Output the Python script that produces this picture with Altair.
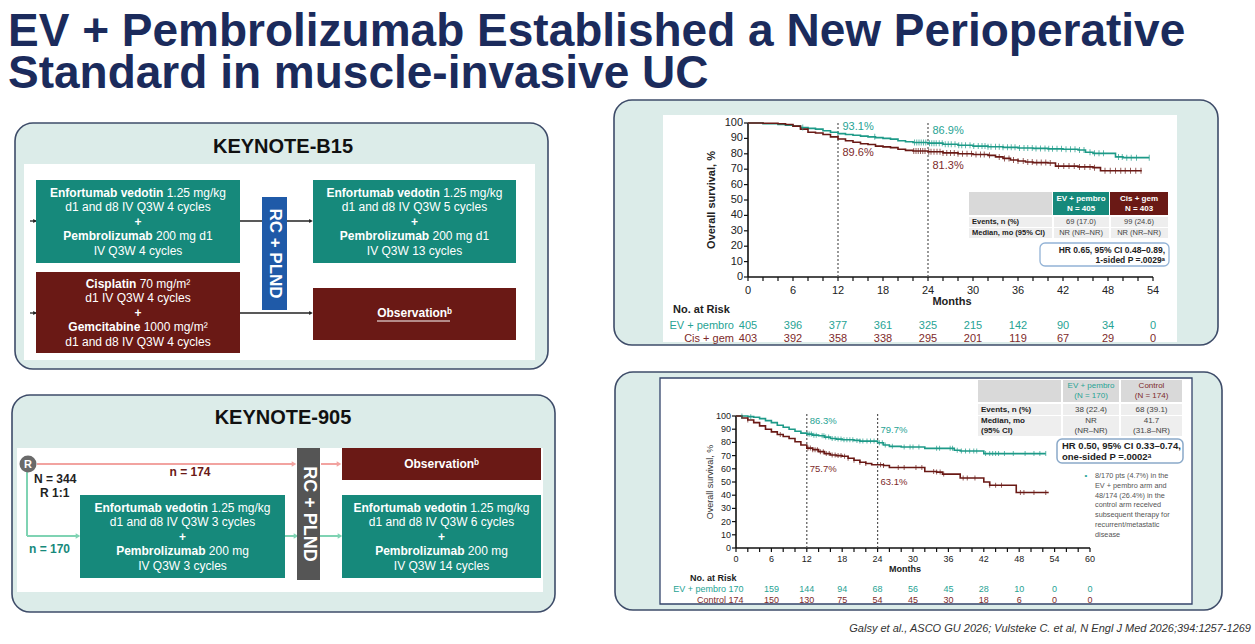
import altair as alt
import pandas as pd

W, H = 1255, 644
FONT = "Liberation Sans"

NAVY = "#1b2b5c"
TEAL = "#16897b"
TEAL_LINE = "#1d9a88"
TEAL_TXT = "#27a394"
MAROON = "#6a1915"
MAROON_TXT = "#7d2a2a"
BLUE_BAR = "#1f5aa8"
GRAY_BAR = "#555555"
PANEL = "#dcece9"
PANEL_EDGE = "#3e4c69"
PINK = "#f2a3a0"
MINT = "#7fd3b3"

# ---------------- values ----------------
TITLE_LINES = ["EV + Pembrolizumab Established a New Perioperative",
               "Standard in muscle-invasive UC"]
FOOTER = "Galsy et al., ASCO GU 2026; Vulsteke C. et al, N Engl J Med 2026;394:1257-1269"

# KEYNOTE-B15 overall survival (months, %)
B15_EV_T = [0, 2, 4, 5, 6, 7, 8, 9, 10, 11, 12, 13, 14, 15, 16, 17, 18, 19, 20, 21, 22, 24, 26, 28, 30,
            32, 34, 36, 38, 40, 42, 44, 45, 46, 48, 49, 50, 53.5]
B15_EV_S = [100, 99.5, 99, 98.5, 98, 97, 96.5, 96, 95, 94, 93.1, 92.5, 92, 91.5, 91, 90.5, 90, 89.5, 88.5,
            87.8, 87.3, 86.9, 86.2, 85.6, 85, 84.6, 84.2, 83.8, 83.5, 83.2, 83, 82.5, 81, 80.3, 80.3, 78,
            77.5, 77.5]
B15_CG_T = [0, 2, 4, 5, 6, 7, 8, 9, 10, 11, 12, 13, 14, 15, 16, 17, 18, 19, 20, 21, 22, 24, 26, 28, 30,
            32, 33, 34, 35, 36, 37, 38, 40, 41, 42, 44, 46, 47, 52.5]
B15_CG_S = [100, 99.8, 99.5, 99, 98, 96, 94, 93.5, 92.5, 91, 89.6, 88.5, 87.5, 86.5, 86, 85, 84.5, 84,
            83, 82.2, 81.8, 81.3, 80.6, 80, 79.5, 79, 78, 77, 76, 75.3, 74.7, 74.3, 74, 72, 72, 71.5, 71,
            69, 69]
B15_EV_CENS = [7.3, 16.9, 22.2, 22.5, 22.8, 23.1, 23.4, 23.7, 24.2, 24.5, 24.8, 25.1, 25.5, 25.9, 26.3,
               26.7, 27.1, 27.6, 28.1, 28.5, 29.0, 29.6, 30.1, 30.7, 31.2, 31.6, 32.0, 32.4, 33.0, 33.5,
               34.0, 34.6, 35.1, 35.6, 36.2, 36.8, 37.3, 37.9, 38.4, 39.0, 39.6, 40.1, 40.6, 41.2, 41.8,
               42.4, 43.0, 43.6, 44.2, 44.8, 45.6, 46.2, 46.8, 47.4, 49.4, 49.9, 50.5, 51.1, 51.8, 53.5]
B15_CG_CENS = [22.1, 22.4, 22.7, 23.0, 23.3, 23.6, 24.1, 24.4, 24.8, 25.2, 25.6, 26.0, 26.5, 27.0, 27.5,
               28.0, 28.6, 29.2, 29.8, 30.4, 31.0, 31.5, 32.2, 33.5, 34.2, 34.8, 35.4, 36.0, 36.7, 37.3,
               37.9, 38.5, 39.1, 39.7, 40.3, 41.4, 42.1, 42.8, 43.5, 44.2, 44.9, 45.6, 46.2, 47.6, 48.3,
               49.0, 49.7, 50.3, 51.0, 51.7, 52.4]
B15_RISK_MONTHS = [0, 6, 12, 18, 24, 30, 36, 42, 48, 54]
B15_RISK_EV = [405, 396, 377, 361, 325, 215, 142, 90, 34, 0]
B15_RISK_CG = [403, 392, 358, 338, 295, 201, 119, 67, 29, 0]
B15_LANDMARKS = [12, 24]
B15_EV_PCT = ["93.1%", "86.9%"]
B15_CG_PCT = ["89.6%", "81.3%"]
B15_ARMS = ["EV + pembro", "Cis + gem"]
B15_N = ["N = 405", "N = 403"]
B15_EVENTS = ["69 (17.0)", "99 (24.6)"]
B15_MEDIAN = ["NR (NR\u2013NR)", "NR (NR\u2013NR)"]
B15_HR = ["HR 0.65, 95% CI 0.48\u20130.89,", "1-sided P =.0029\u1d43"]

# KEYNOTE-905 overall survival (months, %)
K905_EV_T = [0, 1, 2, 3, 4, 5, 6, 7, 8, 9, 10, 11, 12, 13, 14, 15, 16, 17, 18, 20, 21, 22, 24, 25, 26,
             28, 30, 32, 34, 36, 37, 38, 41, 42, 44, 48, 52.5]
K905_EV_S = [100, 100, 99.5, 99, 98, 96.5, 95, 93, 91.5, 90, 88.5, 87, 86.3, 85.5, 85, 84, 83, 82.5, 82,
             81.5, 81, 81, 79.7, 78, 77, 76.5, 76.5, 75.5, 75.5, 75.5, 74, 73.5, 73.5, 71.5, 71.5, 71.5,
             71.5]
K905_CT_T = [0, 1, 2, 3, 4, 5, 6, 7, 8, 9, 10, 11, 12, 13, 14, 15, 16, 17, 18, 19, 20, 21, 22, 23, 25,
             26, 31.5, 32, 34, 35, 37.5, 38, 41.5, 42, 43, 47.5, 53]
K905_CT_S = [100, 98.5, 97, 95, 92.5, 90, 88, 86, 84.5, 83, 80.5, 78, 75.7, 74.5, 73, 71.5, 70.5, 70,
             69.5, 68, 66.5, 65, 64, 63.1, 62.5, 61, 61, 58, 57.5, 56, 56, 53, 53, 50, 47.5, 42, 42]
K905_EV_CENS = [1, 2.5, 12.2, 12.5, 12.8, 13.2, 13.6, 14.6, 14.9, 15.2, 15.7, 16.3, 16.8, 17.3, 17.8,
                18.3, 18.8, 19.3, 19.8, 20.5, 21, 21.5, 22.2, 22.8, 23.4, 24.3, 24.8, 25.3, 26.5, 28.5,
                29.5, 30, 31, 34, 34.5, 36.3, 36.7, 37.5, 38.2, 38.9, 39.6, 40.3, 40.8, 42.3, 43, 43.5,
                44, 44.5, 45.5, 47, 49, 50.5, 51.5, 52.5]
K905_CT_CENS = [2, 7.5, 12.2, 12.6, 13, 13.4, 13.8, 14.3, 14.8, 15.3, 15.8, 16.3, 16.8, 17.3, 17.8,
                18.4, 19, 20, 21, 22, 24.5, 25, 27.5, 28.5, 30.5, 31.5, 33.5, 34, 34.6, 35.2, 38.5,
                39.2, 40.5, 43, 44, 45, 48.2, 48.8, 50.5, 52.5]
K905_RISK_MONTHS = [0, 6, 12, 18, 24, 30, 36, 42, 48, 54, 60]
K905_RISK_EV = [170, 159, 144, 94, 68, 56, 45, 28, 10, 0, 0]
K905_RISK_CT = [174, 150, 130, 75, 54, 45, 30, 18, 6, 0, 0]
K905_LANDMARKS = [12, 24]
K905_EV_PCT = ["86.3%", "79.7%"]
K905_CT_PCT = ["75.7%", "63.1%"]
K905_ARMS = ["EV + pembro", "Control"]
K905_N = ["(N = 170)", "(N = 174)"]
K905_EVENTS = ["38 (22.4)", "68 (39.1)"]
K905_MEDIAN = [["NR", "(NR\u2013NR)"], ["41.7", "(31.8\u2013NR)"]]
K905_HR = ["HR 0.50, 95% CI 0.33\u20130.74,", "one-sided P =.0002\u1d43"]
K905_NOTE = ["8/170 pts (4.7%) in the", "EV + pembro arm and", "48/174 (26.4%) in the",
             "control arm received", "subsequent therapy for", "recurrent/metastatic", "disease"]

# schema texts (bold part, regular part)
B15_EV_PRE = [("Enfortumab vedotin", "1.25 mg/kg"), ("", "d1 and d8 IV Q3W 4 cycles"), ("+", ""),
              ("Pembrolizumab", "200 mg d1"), ("", "IV Q3W 4 cycles")]
B15_CG_PRE = [("Cisplatin", "70 mg/m\u00b2"), ("", "d1 IV Q3W 4 cycles"), ("+", ""),
              ("Gemcitabine", "1000 mg/m\u00b2"), ("", "d1 and d8 IV Q3W 4 cycles")]
B15_EV_POST = [("Enfortumab vedotin", "1.25 mg/kg"), ("", "d1 and d8 IV Q3W 5 cycles"), ("+", ""),
               ("Pembrolizumab", "200 mg d1"), ("", "IV Q3W 13 cycles")]
K905_EV_PRE = [("Enfortumab vedotin", "1.25 mg/kg"), ("", "d1 and d8 IV Q3W 3 cycles"), ("+", ""),
               ("Pembrolizumab", "200 mg"), ("", "IV Q3W 3 cycles")]
K905_EV_POST = [("Enfortumab vedotin", "1.25 mg/kg"), ("", "d1 and d8 IV Q3W 6 cycles"), ("+", ""),
                ("Pembrolizumab", "200 mg"), ("", "IV Q3W 14 cycles")]

# ---------------- text metrics (Arial / Liberation Sans) ----------------
_REG = {" ": 278, "+": 584, ".": 278, "/": 278, "-": 333, "\u00b2": 333, "a": 556, "b": 556, "c": 500,
        "d": 556, "e": 556, "f": 278, "g": 556, "h": 556, "i": 222, "k": 500, "l": 222, "m": 833,
        "n": 556, "o": 556, "p": 556, "r": 333, "s": 500, "t": 278, "u": 556, "v": 500, "y": 500,
        "I": 278, "V": 667, "Q": 778, "W": 944}
_BOLD = {" ": 278, "+": 584, "a": 556, "b": 611, "c": 556, "d": 611, "e": 556, "f": 333, "i": 278,
         "l": 278, "m": 889, "n": 611, "o": 611, "p": 611, "r": 389, "t": 333, "u": 611, "v": 556,
         "z": 500, "E": 667, "P": 667, "C": 722, "G": 778}


def tw(s, bold, size):
    tbl = _BOLD if bold else _REG
    return sum(tbl.get(c, 556) for c in s) * size / 1000.0


PX = alt.Scale(domain=[0, W], range=[0, W])
PY = alt.Scale(domain=[0, H], range=[0, H])


def R(rows, **mk):
    df = pd.DataFrame(rows, columns=["x", "y", "x2", "y2"])
    return alt.Chart(df).mark_rect(**mk).encode(
        x=alt.X("x:Q", scale=PX, axis=None), x2="x2:Q",
        y=alt.Y("y:Q", scale=PY, axis=None), y2="y2:Q")


def L(rows, **mk):
    df = pd.DataFrame(rows, columns=["x", "y", "x2", "y2"])
    return alt.Chart(df).mark_rule(**mk).encode(
        x=alt.X("x:Q", scale=PX, axis=None), x2="x2:Q",
        y=alt.Y("y:Q", scale=PY, axis=None), y2="y2:Q")


def P(rows, **mk):
    df = pd.DataFrame(rows, columns=["x", "y"])
    return alt.Chart(df).mark_point(**mk).encode(
        x=alt.X("x:Q", scale=PX, axis=None), y=alt.Y("y:Q", scale=PY, axis=None))


bank = {}


def put(x, y, text, size=12, weight="normal", color="#000000", align="center", angle=0,
        italic=False, baseline="middle"):
    key = (size, weight, color, align, angle, italic, baseline)
    bank.setdefault(key, []).append((x, y, text))


def box_text(cx, cy, lines, size=12.0, gap=14.5, color="white"):
    n = len(lines)
    sp = tw(" ", False, size)
    for i, (b, r) in enumerate(lines):
        y = cy + (i - (n - 1) / 2.0) * gap
        wb = tw(b, True, size)
        wr = tw(r, False, size)
        gapw = sp if (b and r) else 0.0
        left = cx - (wb + gapw + wr) / 2.0
        if b:
            put(left, y, b, size=size, weight="bold", color=color, align="left")
        if r:
            put(left + wb + gapw, y, r, size=size, color=color, align="left")


D = []
# slide panels
D.append(R([(15, 123, 548, 369), (12, 395, 555, 612), (614, 100, 1218, 345), (615, 372, 1222, 610)],
           fill=PANEL, stroke=PANEL_EDGE, strokeWidth=1.6, cornerRadius=18))
D.append(R([(24, 164, 535, 360), (17, 448, 543, 592), (663, 115, 1177, 342)], fill="white"))
D.append(R([(660, 378, 1192, 604)], fill="white", stroke="#34446b", strokeWidth=1.3))

# ---- KEYNOTE-B15 schema ----
D.append(L([(30, 221, 36, 221), (240, 221, 310, 221), (30, 313, 36, 313), (240, 313, 310, 313)],
           color="#222222", strokeWidth=1.3))
D.append(P([(311, 221), (311, 313), (35, 221), (35, 313)], shape="triangle-right", filled=True,
           size=18, color="#222222", opacity=1))
D.append(R([(36, 180, 240, 263), (313, 180, 516, 263)], fill=TEAL))
D.append(R([(36, 272, 240, 353), (313, 288, 516, 340)], fill=MAROON))
D.append(R([(262, 197, 287, 310)], fill=BLUE_BAR))
put(283, 147, "KEYNOTE-B15", size=20, weight="bold", color="#111111")
box_text(138, 221.5, B15_EV_PRE)
box_text(138, 312.5, B15_CG_PRE)
box_text(414.5, 221.5, B15_EV_POST)
put(414.5, 313, "Observation\u1d47", size=12, weight="bold", color="white")
D.append(L([(377, 321, 450, 321)], color="white", strokeWidth=1))
put(274.5, 253.5, "RC + PLND", size=17, weight="bold", color="white", angle=90)

# ---- KEYNOTE-905 schema ----
D.append(L([(37, 464, 292, 464), (321, 464, 337, 464)], color=PINK, strokeWidth=2))
D.append(P([(294, 464), (339, 464)], shape="triangle-right", filled=True, size=28, color=PINK,
           opacity=1))
D.append(L([(27, 472, 27, 536), (27, 536, 76, 536), (285, 536, 294, 536), (320, 536, 338, 536)],
           color=MINT, strokeWidth=2))
D.append(P([(78, 536), (296, 536), (340, 536)], shape="triangle-right", filled=True, size=28,
           color=MINT, opacity=1))
D.append(P([(28, 464)], shape="circle", filled=True, size=290, color="#6a6a6a", opacity=1))
D.append(R([(80, 495, 285, 578), (342, 495, 541, 578)], fill=TEAL))
D.append(R([(342, 448, 541, 480)], fill=MAROON))
D.append(R([(297, 448, 320, 580)], fill=GRAY_BAR))
put(283, 418, "KEYNOTE-905", size=20, weight="bold", color="#111111")
put(28, 464.5, "R", size=11, weight="bold", color="white")
put(34, 479, "N = 344", size=12, weight="bold", color="#222222", align="left")
put(40, 493, "R 1:1", size=12, weight="bold", color="#222222", align="left")
put(190, 472, "n = 174", size=12, weight="bold", color=MAROON, align="center")
put(29, 549, "n = 170", size=12, weight="bold", color=TEAL, align="left")
box_text(182.5, 536.5, K905_EV_PRE)
box_text(441.5, 536.5, K905_EV_POST)
put(441.5, 464, "Observation\u1d47", size=12, weight="bold", color="white")
put(308.5, 514, "RC + PLND", size=18, weight="bold", color="white", angle=90)

# ---- title & footer ----
put(8, 46, TITLE_LINES[0], size=46, weight="bold", color=NAVY, align="left", baseline="alphabetic")
put(8, 88, TITLE_LINES[1], size=46, weight="bold", color=NAVY, align="left", baseline="alphabetic")
put(1251, 629, FOOTER, size=11, color="#333333", align="right", italic=True)

# ---- B15 KM text furniture ----
put(712, 200, "Overall survival, %", size=11, weight="bold", color="#222222", angle=270)
put(952, 302, "Months", size=11, weight="bold", color="#222222")
put(673, 310, "No. at Risk", size=11, weight="bold", color="#222222", align="left")
put(734, 326, B15_ARMS[0], size=11, color=TEAL_TXT, align="right")
put(734, 339, B15_ARMS[1], size=11, color=MAROON_TXT, align="right")
D.append(R([(969, 192, 1052, 215)], fill="#d9d9d9"))
D.append(R([(1053, 192, 1109, 215)], fill=TEAL))
D.append(R([(1110, 192, 1168, 215)], fill=MAROON))
D.append(R([(969, 217, 1052, 227), (1054, 217, 1109, 227), (1111, 217, 1168, 227),
            (969, 228, 1052, 238), (1054, 228, 1109, 238), (1111, 228, 1168, 238)], fill="#eeeeee"))
put(1081, 199, B15_ARMS[0], size=8, weight="bold", color="white")
put(1081, 208.5, B15_N[0], size=8, weight="bold", color="white")
put(1139, 199, B15_ARMS[1], size=8, weight="bold", color="white")
put(1139, 208.5, B15_N[1], size=8, weight="bold", color="white")
put(972, 222, "Events, n (%)", size=7.5, weight="bold", color="#222222", align="left")
put(972, 233, "Median, mo (95% CI)", size=7.5, weight="bold", color="#222222", align="left")
put(1081, 222, B15_EVENTS[0], size=7.5, color="#444444")
put(1139, 222, B15_EVENTS[1], size=7.5, color="#444444")
put(1081, 233, B15_MEDIAN[0], size=7.5, color="#444444")
put(1139, 233, B15_MEDIAN[1], size=7.5, color="#444444")
D.append(R([(1040, 243, 1169, 266)], fill="white", stroke="#93b3d6", strokeWidth=1.3, cornerRadius=5))
put(1165, 249.5, B15_HR[0], size=8.5, weight="bold", color="#222222", align="right")
put(1165, 260, B15_HR[1], size=8.5, weight="bold", color="#222222", align="right")

# ---- 905 KM text furniture ----
put(710, 482, "Overall survival, %", size=9, color="#333333", angle=270)
put(905, 569, "Months", size=9, weight="bold", color="#222222")
put(690, 578, "No. at Risk", size=9, weight="bold", color="#222222", align="left")
put(726, 589, K905_ARMS[0], size=9, color=TEAL_TXT, align="right")
put(726, 600, K905_ARMS[1], size=9, color=MAROON_TXT, align="right")
D.append(R([(978, 380, 1061, 402), (1063, 380, 1119, 402), (1121, 380, 1182, 402)], fill="#d9d9d9"))
D.append(R([(978, 404, 1061, 415), (1063, 404, 1119, 415), (1121, 404, 1182, 415),
            (978, 416, 1061, 436), (1063, 416, 1119, 436), (1121, 416, 1182, 436)], fill="#eeeeee"))
put(1091, 386, K905_ARMS[0], size=8, color=TEAL_TXT)
put(1091, 396, K905_N[0], size=8, color=TEAL_TXT)
put(1151.5, 386, K905_ARMS[1], size=8, color=MAROON_TXT)
put(1151.5, 396, K905_N[1], size=8, color=MAROON_TXT)
put(981, 409.5, "Events, n (%)", size=8, weight="bold", color="#222222", align="left")
put(981, 421, "Median, mo", size=8, weight="bold", color="#222222", align="left")
put(981, 431, "(95% CI)", size=8, weight="bold", color="#222222", align="left")
put(1091, 409.5, K905_EVENTS[0], size=8, color="#444444")
put(1151.5, 409.5, K905_EVENTS[1], size=8, color="#444444")
put(1091, 421, K905_MEDIAN[0][0], size=8, color="#444444")
put(1091, 431, K905_MEDIAN[0][1], size=8, color="#444444")
put(1151.5, 421, K905_MEDIAN[1][0], size=8, color="#444444")
put(1151.5, 431, K905_MEDIAN[1][1], size=8, color="#444444")
D.append(R([(1057, 439, 1183, 463)], fill="white", stroke="#8aa9c9", strokeWidth=1.5, cornerRadius=5))
put(1062, 446, K905_HR[0], size=9.5, weight="bold", color="#222222", align="left")
put(1062, 457, K905_HR[1], size=9.5, weight="bold", color="#222222", align="left")
put(1086, 476, "\u2022", size=8, color=TEAL_TXT)
for i, line in enumerate(K905_NOTE):
    put(1095, 476 + i * 9.8, line, size=7.3, color="#555555", align="left")

for (size, weight, color, align, angle, italic, baseline), rows in bank.items():
    mk = dict(fontSize=size, fontWeight=weight, color=color, align=align, baseline=baseline, font=FONT)
    if angle:
        mk["angle"] = angle
    if italic:
        mk["fontStyle"] = "italic"
    df = pd.DataFrame(rows, columns=["x", "y", "text"])
    D.append(alt.Chart(df).mark_text(**mk).encode(
        x=alt.X("x:Q", scale=PX, axis=None), y=alt.Y("y:Q", scale=PY, axis=None), text="text:N"))

diagram = alt.layer(*D)


# ---------------- Kaplan-Meier panels ----------------
def step_at(ts, ss, t):
    v = ss[0]
    for ti, si in zip(ts, ss):
        if ti <= t:
            v = si
        else:
            break
    return v


def km(cfg):
    sx = alt.Scale(domain=[0, cfg["xmax"]], range=[cfg["x0"], cfg["x1"]])
    sy = alt.Scale(domain=[0, 100], range=[cfg["y0"], cfg["y100"]])
    fs = cfg["fs"]
    x0, y0, xmax = cfg["x0"], cfg["y0"], cfg["xmax"]
    X = alt.X("t:Q", scale=sx, axis=None)
    Y = alt.Y("s:Q", scale=sy, axis=None)
    col = alt.Color("col:N", scale=None)
    AX = "#111111"

    xt = list(range(0, xmax + 1, 2))
    xl = list(range(0, xmax + 1, 6))
    yt = list(range(0, 101, 10))

    curves, cens, pct = [], [], []
    for arm, ts, ss, ct, c in cfg["arms"]:
        curves += [dict(t=t, s=s, arm=arm, col=c) for t, s in zip(ts, ss)]
        cens += [dict(t=t, s=step_at(ts, ss, t), col=c) for t in ct]
    for (lab, c), (t, s) in zip(cfg["pct"], cfg["pct_pos"]):
        pct.append(dict(t=t, s=s, lab=lab, col=c))

    layers = [
        # axes drawn through the scales
        alt.Chart(pd.DataFrame(dict(t=[0], t2=[xmax], s=[0]))).mark_rule(
            color=AX, strokeWidth=1.6).encode(x=X, x2="t2:Q", y=Y),
        alt.Chart(pd.DataFrame(dict(t=[0], s=[0], s2=[100]))).mark_rule(
            color=AX, strokeWidth=1.6).encode(x=X, y=Y, y2="s2:Q"),
        alt.Chart(pd.DataFrame(dict(t=xt, s=[0] * len(xt)))).mark_rule(
            color=AX, strokeWidth=1.2).encode(x=X, y=Y, y2=alt.value(y0 + 4)),
        alt.Chart(pd.DataFrame(dict(t=[0] * len(yt), s=yt))).mark_rule(
            color=AX, strokeWidth=1.2).encode(x=X, x2=alt.value(x0 - 4), y=Y),
        alt.Chart(pd.DataFrame(dict(t=xl, lab=[str(v) for v in xl]))).mark_text(
            align="center", baseline="middle", font=FONT, fontSize=fs, color="#222222").encode(
            x=X, y=alt.value(y0 + cfg["xlab_dy"]), text="lab:N"),
        alt.Chart(pd.DataFrame(dict(s=yt, lab=[str(v) for v in yt]))).mark_text(
            align="right", baseline="middle", font=FONT, fontSize=fs, color="#222222").encode(
            x=alt.value(x0 - 5), y=Y, text="lab:N"),
        # landmark lines
        alt.Chart(pd.DataFrame(dict(t=cfg["landmarks"], s=[0] * len(cfg["landmarks"]),
                                    s2=[cfg["ltop"]] * len(cfg["landmarks"])))).mark_rule(
            strokeDash=[2, 2], color="#555555", strokeWidth=1.2).encode(x=X, y=Y, y2="s2:Q"),
        # curves
        alt.Chart(pd.DataFrame(curves)).mark_line(interpolate="step-after", strokeWidth=1.6).encode(
            x=X, y=Y, color=col, detail="arm:N"),
        alt.Chart(pd.DataFrame(cens)).mark_tick(orient="vertical", size=cfg["tick"], thickness=1).encode(
            x=X, y=Y, color=col),
        alt.Chart(pd.DataFrame(pct)).mark_text(align="left", baseline="middle", font=FONT,
                                              fontSize=cfg["pfs"]).encode(
            x=X, y=Y, text="lab:N", color=col),
    ]
    for months, vals, c, py in cfg["risk"]:
        df = pd.DataFrame(dict(t=months, n=[str(v) for v in vals]))
        layers.append(alt.Chart(df).mark_text(align="center", baseline="middle", font=FONT, fontSize=fs,
                                              color=c).encode(x=X, y=alt.value(py), text="n:N"))
    return alt.layer(*layers)


km1 = km(dict(
    xmax=54, x0=748, x1=1153, y0=277, y100=123, fs=11, pfs=11, tick=6, ltop=100, xlab_dy=14,
    landmarks=B15_LANDMARKS,
    arms=[("ev", B15_EV_T, B15_EV_S, B15_EV_CENS, TEAL_LINE),
          ("cg", B15_CG_T, B15_CG_S, B15_CG_CENS, MAROON)],
    pct=[(B15_EV_PCT[0], TEAL_TXT), (B15_EV_PCT[1], TEAL_TXT),
         (B15_CG_PCT[0], MAROON_TXT), (B15_CG_PCT[1], MAROON_TXT)],
    pct_pos=[(12.6, 97.2), (24.6, 94.6), (12.6, 80.2), (24.6, 72.4)],
    risk=[(B15_RISK_MONTHS, B15_RISK_EV, TEAL_TXT, 326), (B15_RISK_MONTHS, B15_RISK_CG, MAROON_TXT, 339)],
))

km2 = km(dict(
    xmax=60, x0=736, x1=1090, y0=548, y100=416, fs=9, pfs=9.5, tick=5, ltop=102, xlab_dy=11,
    landmarks=K905_LANDMARKS,
    arms=[("ev", K905_EV_T, K905_EV_S, K905_EV_CENS, TEAL_LINE),
          ("ct", K905_CT_T, K905_CT_S, K905_CT_CENS, MAROON)],
    pct=[(K905_EV_PCT[0], TEAL_TXT), (K905_EV_PCT[1], TEAL_TXT),
         (K905_CT_PCT[0], MAROON_TXT), (K905_CT_PCT[1], MAROON_TXT)],
    pct_pos=[(12.5, 96.4), (24.5, 89.4), (12.5, 59.7), (24.5, 50.3)],
    risk=[(K905_RISK_MONTHS, K905_RISK_EV, TEAL_TXT, 589), (K905_RISK_MONTHS, K905_RISK_CT, MAROON_TXT, 600)],
))

chart = alt.layer(diagram, km1, km2).resolve_scale(x="independent", y="independent").properties(
    width=W, height=H, padding=0, autosize=alt.AutoSizeParams(type="none"), background="white"
).configure_view(strokeWidth=0)

chart.save("out.html", embed_options={"renderer": "svg", "actions": False})
